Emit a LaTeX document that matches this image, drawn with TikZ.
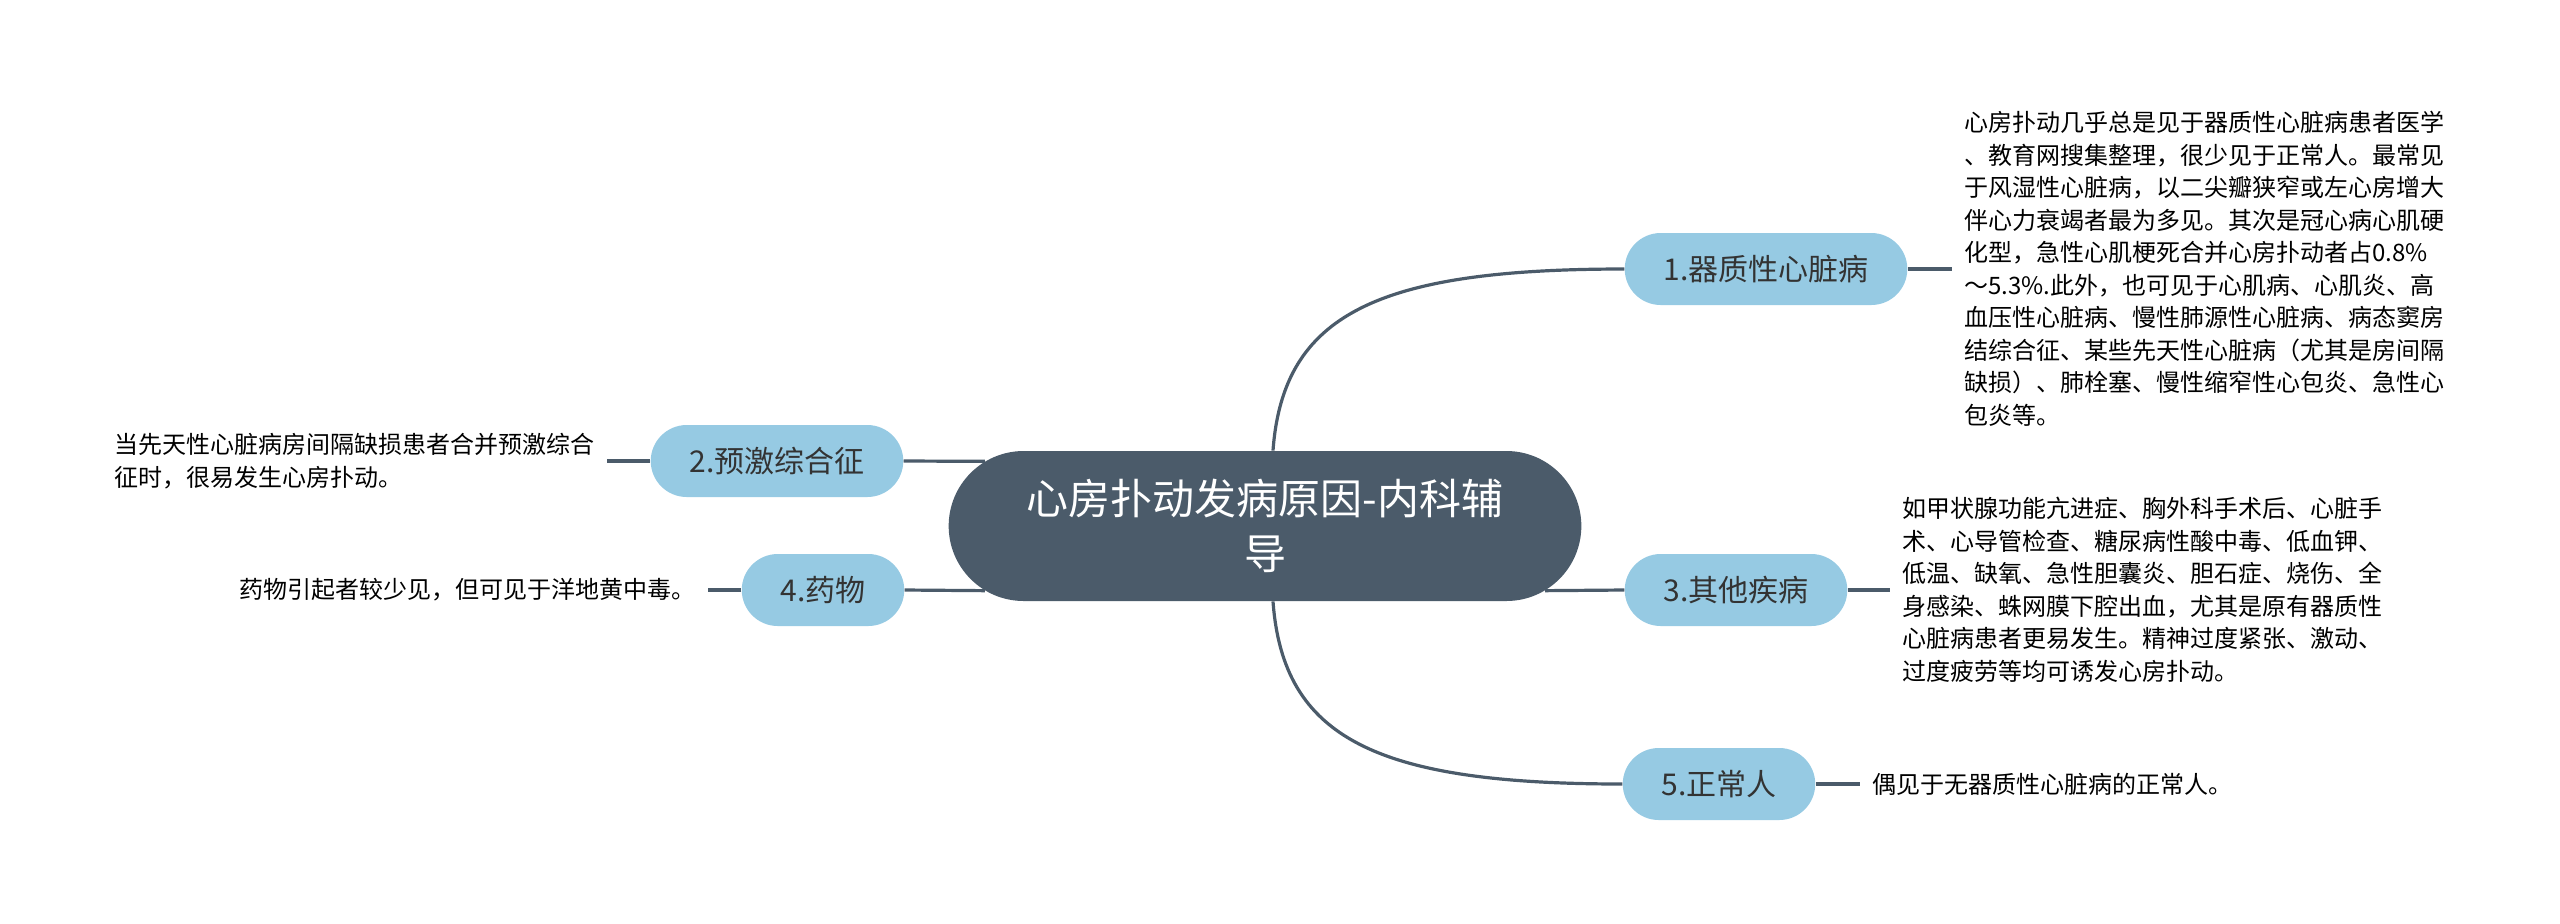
\documentclass[tikz,border=0pt]{standalone}
\usepackage{fontspec}
\setmainfont{Noto Sans CJK SC}
\usetikzlibrary{shapes.misc}
\definecolor{hubcol}{HTML}{4B5B6A}
\definecolor{ramacol}{HTML}{96CAE3}
\definecolor{textcol}{HTML}{333333}

\begin{document}
\begin{tikzpicture}[x=0.5pt, y=-0.5pt,
  hub/.style={rounded rectangle, fill=hubcol, text=white, align=center,
    minimum width=323pt, minimum height=75pt, font=\fontsize{21}{27.5}\selectfont},
  rama/.style={rounded rectangle, fill=ramacol, text=textcol, inner xsep=18pt,
    minimum height=36pt, font=\fontsize{15}{18}\selectfont},
  hoja/.style={align=left, text=black, inner xsep=6pt, font=\fontsize{12}{16.25}\selectfont},
  enlace/.style={draw=hubcol, line width=1.6pt}]
  \useasboundingbox (0,0) rectangle (2560,923);
  % nodo central
  \node[hub] (hub) at (1265,526) {心房扑动发病原因-内科辅\\导};
  % ramas
  \node[rama] (n1) at (1766,269) {1.器质性心脏病};
  \node[rama] (n2) at (777,461) {2.预激综合征};
  \node[rama] (n3) at (1736,590) {3.其他疾病};
  \node[rama] (n4) at (823,590) {4.药物};
  \node[rama] (n5) at (1719,784) {5.正常人};
  % hojas
  \node[hoja, anchor=west] (h1) at (1952,269) {心房扑动几乎总是见于器质性心脏病患者医学\\、教育网搜集整理，很少见于正常人。最常见\\于风湿性心脏病，以二尖瓣狭窄或左心房增大\\伴心力衰竭者最为多见。其次是冠心病心肌硬\\化型，急性心肌梗死合并心房扑动者占0.8\%\\～5.3\%.此外，也可见于心肌病、心肌炎、高\\血压性心脏病、慢性肺源性心脏病、病态窦房\\结综合征、某些先天性心脏病（尤其是房间隔\\缺损）、肺栓塞、慢性缩窄性心包炎、急性心\\包炎等。};
  \node[hoja, anchor=east] (h2) at (607,461) {当先天性心脏病房间隔缺损患者合并预激综合\\征时，很易发生心房扑动。};
  \node[hoja, anchor=west] (h3) at (1890,590) {如甲状腺功能亢进症、胸外科手术后、心脏手\\术、心导管检查、糖尿病性酸中毒、低血钾、\\低温、缺氧、急性胆囊炎、胆石症、烧伤、全\\身感染、蛛网膜下腔出血，尤其是原有器质性\\心脏病患者更易发生。精神过度紧张、激动、\\过度疲劳等均可诱发心房扑动。};
  \node[hoja, anchor=east] (h4) at (708,590) {药物引起者较少见，但可见于洋地黄中毒。};
  \node[hoja, anchor=west] (h5) at (1860,784) {偶见于无器质性心脏病的正常人。};
  % enlaces
  \draw[enlace] ([xshift=4pt]hub.north) .. controls +(10,-137) and +(-246,0) .. (n1.west);
  \draw[enlace] ([xshift=4pt]hub.south) .. controls +(10,137) and +(-246,0) .. (n5.west);
  \draw[enlace] (n2.east) -- (hub.167);
  \draw[enlace] (n4.east) -- (hub.193);
  \draw[enlace] (hub.-13) -- (n3.west);
  \draw[enlace] (n1.east) -- (h1.west);
  \draw[enlace] (n3.east) -- (h3.west);
  \draw[enlace] (n5.east) -- (h5.west);
  \draw[enlace] (n2.west) -- (h2.east);
  \draw[enlace] (n4.west) -- (h4.east);
\end{tikzpicture}
\end{document}
